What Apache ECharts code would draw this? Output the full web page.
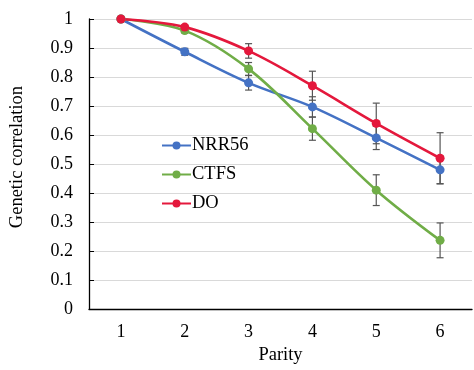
<!DOCTYPE html>
<html><head><meta charset="utf-8">
<script src="https://cdn.jsdelivr.net/npm/echarts@6/dist/echarts.min.js"></script>
<style>html,body{margin:0;padding:0;background:#fff}#c{width:474px;height:370px}</style>
</head><body><div id="c"></div>
<script>
const categories = ['1','2','3','4','5','6'];
const nrr56 = [1, 0.887, 0.78, 0.697, 0.59, 0.48];
const nrr56Err = [0, 0.012, 0.025, 0.035, 0.04, 0.048];
const ctfs = [1, 0.96, 0.828, 0.622, 0.41, 0.237];
const ctfsErr = [0, 0.008, 0.022, 0.04, 0.053, 0.06];
const dO = [1, 0.972, 0.89, 0.77, 0.64, 0.52];
const dOErr = [0, 0.008, 0.025, 0.05, 0.07, 0.088];

const font = '"Liberation Serif", "Times New Roman", serif';
const colors = {NRR56:'#4472C4', CTFS:'#70AD47', DO:'#E4183C'};

function errSeries(vals, errs){
  return {
    type:'custom', silent:true, z:1,
    data: vals.map((v,i)=>[i, v-errs[i], v+errs[i]]),
    renderItem:function(params, api){
      if (api.value(2)-api.value(1) < 1e-6) return null;
      const lo = api.coord([api.value(0), api.value(1)]);
      const hi = api.coord([api.value(0), api.value(2)]);
      const w = 3.5;
      const st = {stroke:'#555', lineWidth:1.2};
      return {type:'group', children:[
        {type:'line', shape:{x1:lo[0],y1:lo[1],x2:hi[0],y2:hi[1]}, style:st},
        {type:'line', shape:{x1:lo[0]-w,y1:lo[1],x2:lo[0]+w,y2:lo[1]}, style:st},
        {type:'line', shape:{x1:hi[0]-w,y1:hi[1],x2:hi[0]+w,y2:hi[1]}, style:st}
      ]};
    }
  };
}
function lineSeries(name, vals){
  return {
    name, type:'line', data:vals, smooth:0.35, symbol:'circle', symbolSize:9, z:3,
    itemStyle:{color:colors[name]}, lineStyle:{color:colors[name], width:2.6}
  };
}

const chart = echarts.init(document.getElementById('c'));
chart.setOption({
  animation:false,
  textStyle:{fontFamily:font},
  grid:{left:87, right:2, top:19, bottom:58},
  legend:{
    orient:'vertical', left:156, top:131, itemGap:10, itemWidth:29, itemHeight:10,
    textStyle:{fontFamily:font, fontSize:18.5, color:'#000', padding:[0,0,0,-4]},
    data:['NRR56','CTFS','DO']
  },
  xAxis:{
    type:'category', data:categories, boundaryGap:true,
    name:'Parity', nameLocation:'middle', nameGap:36,
    nameTextStyle:{fontFamily:font, fontSize:18.5, color:'#000'},
    axisLine:{lineStyle:{color:'#000', width:1.3}},
    axisTick:{inside:true, length:5, lineStyle:{color:'#000'}},
    axisLabel:{fontFamily:font, fontSize:18, color:'#000', margin:14},
    splitLine:{show:false}
  },
  yAxis:{
    type:'value', min:0, max:1, interval:0.1,
    name:'Genetic correlation', nameLocation:'middle', nameGap:62, nameRotate:90,
    nameTextStyle:{fontFamily:font, fontSize:18.5, color:'#000', padding:[0,0,0,14]},
    axisLine:{show:true, lineStyle:{color:'#000', width:1.3}},
    axisTick:{show:true, inside:true, length:5, lineStyle:{color:'#000'}},
    axisLabel:{fontFamily:font, fontSize:18, color:'#000', margin:16,
      formatter:v=>String(Math.round(v*10)/10)},
    splitLine:{lineStyle:{color:'#d9d9d9', width:1}}
  },
  series:[
    errSeries(nrr56, nrr56Err), errSeries(ctfs, ctfsErr), errSeries(dO, dOErr),
    lineSeries('NRR56', nrr56), lineSeries('CTFS', ctfs), lineSeries('DO', dO)
  ]
});
</script></body></html>
